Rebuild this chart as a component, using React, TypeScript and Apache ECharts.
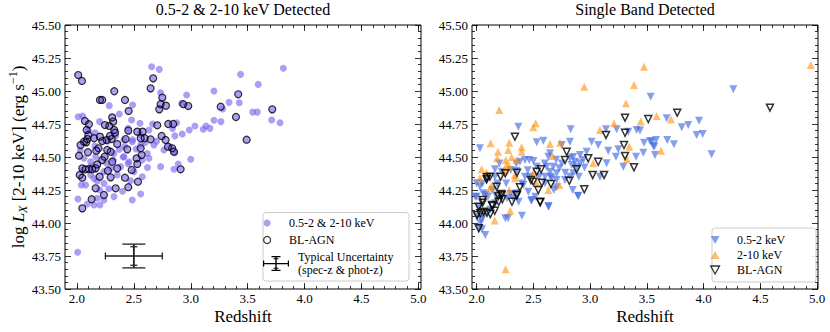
import React, { useEffect, useRef } from 'react';
import * as echarts from 'echarts';

const FONT = "'Liberation Serif', 'DejaVu Serif', serif";

const panelTitles = ['0.5-2 & 2-10 keV Detected', 'Single Band Detected'];
const xAxisTitle = 'Redshift';
const xMajorTicks = [2.0, 2.5, 3.0, 3.5, 4.0, 4.5, 5.0];
const xMinorTicks = [2.0, 2.1, 2.2, 2.3, 2.4, 2.5, 2.6, 2.7, 2.8, 2.9, 3.0, 3.1, 3.2, 3.3, 3.4, 3.5, 3.6, 3.7, 3.8, 3.9, 4.0, 4.1, 4.2, 4.3, 4.4, 4.5, 4.6, 4.7, 4.8, 4.9, 5.0];

// Left panel: sources detected in both bands (non BL-AGN)
const leftBoth = [
  [2.656,45.184],[2.723,45.164],[2.735,44.987],[2.964,44.97],[2.284,44.889],[2.489,44.894],[2.372,44.826],[2.011,44.805],[2.05,44.81],[2.48,44.78],[2.92,44.907],[3.037,44.735],[2.987,44.705],[2.665,44.75],[2.876,44.76],[2.84,44.717],[2.86,44.66],[2.45,44.717],[2.554,44.755],[2.554,44.674],[3.0,44.483],[2.89,44.447],[2.735,44.427],[2.372,44.558],[2.489,44.63],[2.407,44.5],[2.6,44.61],[2.817,44.578],[2.86,44.533],[2.158,44.583],[2.129,44.427],[2.261,44.452],[2.319,44.477],
  [3.813,45.172],[3.438,45.126],[3.593,45.05],[3.204,45.0],[3.336,44.914],[3.426,44.911],[3.28,44.864],[3.544,44.84],[3.585,44.84],[3.204,44.778],[3.265,44.768],[3.711,44.78],[3.784,44.76],[3.134,44.735],[3.169,44.717],[3.11,44.71],
  [2.009,44.182],[2.091,44.144],[2.15,44.136],[2.202,44.136],[2.486,44.174],[2.237,44.174],[2.178,44.187],[2.325,44.2],[2.038,44.288],[2.076,44.288],[2.15,44.338],[2.237,44.3],[2.178,44.318],[2.471,44.32],[2.574,44.351],[2.354,44.364],[2.12,44.364],[2.501,44.389],[2.574,44.477],[2.633,44.49],[2.852,44.407],[2.413,44.502],[2.457,44.464],[2.325,44.527],[2.384,44.427],[2.062,44.49],[2.12,44.464],[2.164,44.502],[2.237,44.389],[2.296,44.414],[2.56,44.591],[2.486,44.616],[2.413,44.629],[2.676,44.591],[2.618,44.527],[2.006,43.778],
  [2.199,44.768],[2.633,44.705],[2.158,44.684],[2.925,44.674],[2.764,44.553],
  [2.03,44.55],[2.1,44.7],[2.27,44.62],[2.34,44.66],[2.42,44.58],[2.52,44.56],[2.45,44.45],[2.2,44.25],[2.28,44.26],[2.05,44.4],[2.62,44.42],[2.7,44.62],[2.56,44.22],[2.4,44.24]
];

// Left panel: BL-AGN (also detected in both bands)
const leftBL = [
  [2.011,45.121],[2.044,45.076],[2.328,44.998],[2.202,44.932],[2.222,44.932],[2.422,44.932],[2.454,44.848],[2.67,45.096],[2.647,45.02],[2.75,44.95],[2.735,44.9],[2.723,44.861],[2.782,44.889],[2.934,44.9],[2.978,44.886],[2.07,44.773],[2.105,44.748],[2.085,44.705],[2.1,44.667],[2.31,44.8],[2.319,44.768],[2.284,44.735],[2.246,44.742],[2.328,44.705],[2.334,44.684],[2.202,44.654],[2.29,44.659],[2.451,44.7],[2.53,44.692],[2.577,44.692],[2.706,44.74],[2.802,44.75],[2.846,44.75],[2.744,44.659],
  [3.417,44.975],[3.263,44.881],[3.397,44.803],[3.716,44.861],[3.491,44.631],
  [2.047,44.111],[2.129,44.18],[2.237,44.212],[2.164,44.263],[2.34,44.263],[2.451,44.271],[2.536,44.313],[2.422,44.343],[2.296,44.346],[2.199,44.351],[2.047,44.343],[2.024,44.364],[2.076,44.407],[2.047,44.414],[2.105,44.409],[2.134,44.407],[2.164,44.414],[2.272,44.396],[2.354,44.414],[2.481,44.402],[2.53,44.447],[2.568,44.515],[2.524,44.49],[2.31,44.464],[2.243,44.502],[2.222,44.477],[2.178,44.444],[2.018,44.51],[2.097,44.536],[2.17,44.548],[2.266,44.553],[2.296,44.54],[2.442,44.558],[2.56,44.566],[2.032,44.591],[2.062,44.616],[2.082,44.611],[2.091,44.636],[2.15,44.642],[2.222,44.621],[2.261,44.629],[2.305,44.636],[2.428,44.636],[2.56,44.642],[2.595,44.642],[2.647,44.634],[2.779,44.629],[2.8,44.578],[2.837,44.566],[2.852,44.54],[2.911,44.407],[2.354,44.598],[2.19,44.566]
];

// Typical uncertainty: [z, logL, xerr, yerr (phot-z), yerr (spec-z)]
const typicalUncertainty = [[2.5, 43.75, 0.25, 0.09, 0.07]];

// Right panel: hard band only (2-10 keV)
const rightHard = [
  [2.948,45.033],[3.386,45.045],[2.199,44.856],[2.52,44.755],[2.499,44.725],[3.315,44.907],[3.21,44.755],[3.086,44.705],[3.445,44.768],[3.586,44.81],[2.123,44.604],[2.287,44.608],[2.396,44.573],[2.396,44.54],[2.188,44.54],[2.646,44.598],[2.734,44.608],[2.67,44.508],[2.278,44.553],[2.181,44.49],[2.258,44.477],[2.308,44.498],[2.352,44.477],[2.264,44.439],[2.287,44.427],[2.044,44.407],[2.029,44.339],[2.088,44.381],[2.249,44.396],[2.337,44.364],[2.337,44.339],[2.499,44.381],[2.117,44.263],[2.132,44.28],[2.529,44.301],[2.631,44.25],[2.728,44.288],[2.287,44.25],[3.027,44.452],[3.322,44.485],[3.345,44.578],[3.624,44.548],
  [4.943,45.197],[3.474,45.184],[3.712,44.785],[2.296,44.093],[2.159,44.018],[2.255,43.649]
];

// Right panel: soft band only (0.5-2 keV)
const rightSoft = [
  [3.533,44.957],[2.367,44.73],[2.828,44.71],[2.029,44.566],[3.139,44.71],[3.233,44.71],[3.41,44.705],[3.439,44.7],[3.013,44.616],[3.071,44.591],[2.822,44.616],[2.587,44.624],[2.529,44.611],[3.474,44.608],[3.542,44.616],[3.58,44.629],[3.565,44.578],[3.159,44.548],[3.248,44.558],[3.571,44.515],[3.468,44.533],[2.969,44.54],[2.91,44.515],[3.227,44.502],[3.292,44.427],[3.145,44.452],[3.086,44.351],[2.749,44.591],[2.646,44.528],[2.631,44.502],[2.426,44.477],[2.463,44.477],[2.381,44.464],[2.529,44.427],[2.617,44.427],[2.675,44.427],[2.728,44.414],[2.822,44.49],[2.866,44.464],[2.881,44.422],[2.837,44.439],[2.91,44.452],[2.939,44.477],[2.851,44.376],[2.822,44.351],[2.778,44.326],[2.705,44.376],[2.646,44.389],[2.602,44.351],[2.661,44.339],[2.705,44.326],[2.602,44.301],[2.47,44.351],[2.426,44.351],[2.352,44.396],[2.3,44.402],[2.22,44.389],[2.161,44.407],[2.161,44.351],[2.088,44.326],[2.0,44.301],[2.029,44.275],[2.0,44.199],[2.058,44.225],[2.411,44.288],[2.352,44.225],[2.455,44.237],[2.705,44.27],[2.846,44.25],[2.895,44.205],[2.631,44.129],[2.485,44.174],[2.176,44.199],[2.322,44.187],
  [4.261,45.013],[3.674,44.793],[3.959,44.775],[3.806,44.725],[3.864,44.742],[3.938,44.667],[3.991,44.674],[4.07,44.52],[3.679,44.629],[3.738,44.596],[3.527,44.621],[3.556,44.583],[3.336,44.692],[3.404,44.502],
  [2.076,43.909],[2.023,43.96],[2.047,43.952],[2.252,44.036],[2.276,44.036],[2.399,44.055],[2.634,44.124],[2.892,44.207],[2.032,43.998],[2.041,44.023],[2.003,44.048],[1.988,44.199],[2.076,44.212],[2.164,44.149],[2.267,44.187],[2.37,44.161],[2.481,44.169],[2.516,44.199],
  [2.02,44.12],[2.06,44.05],[2.1,44.2],[2.14,44.25],[2.05,44.3],[2.12,44.1],[2.18,44.3],[2.26,44.3],[2.3,44.22],[2.4,44.3],[2.45,44.4],[2.55,44.35],[2.6,44.45],[2.65,44.35],[2.7,44.48],[2.75,44.45],[2.78,44.38],[2.85,44.5],[2.9,44.35],[2.95,44.42],[2.68,44.25],[2.5,44.47],[2.2,44.45],[2.35,44.45]
];

// Right panel: BL-AGN
const rightBL = [
  [2.337,44.654],[3.307,44.798],[3.512,44.788],[3.139,44.667],[3.307,44.684],[3.298,44.591],[3.307,44.508],[3.386,44.422],[3.071,44.464],[2.983,44.49],[3.022,44.364],[3.122,44.364],[2.948,44.255],[2.881,44.407],[2.793,44.54],[2.778,44.477],[2.816,44.32],[2.567,44.407],[2.529,44.389],[2.478,44.326],[2.499,44.313],[2.543,44.25],[2.655,44.295],[2.558,44.161],[2.381,44.27],[2.352,44.212],[2.211,44.351],[2.117,44.351],[2.088,44.331],[2.176,44.275],[2.22,44.212],[2.226,44.18],[2.19,44.205],[2.053,44.174],[2.141,44.129],
  [4.584,44.874],[3.767,44.836],
  [2.018,43.96],[2.003,44.061],[2.032,44.073],[2.062,44.086],[2.091,44.078],[2.12,44.068],[2.018,44.124],[2.053,44.154],[2.135,44.136],[2.159,44.093],[2.194,44.161],[2.311,44.161],[2.355,44.212],[2.217,44.22],[2.56,44.157],
  [2.09,44.346],[2.252,44.376],[2.355,44.381],[2.575,44.305]
];

const PURPLE = 'rgba(123,104,238,0.8)';
const BLUE = 'rgba(65,105,225,0.8)';
const ORANGE = 'rgba(255,140,0,0.72)';
const DOWN_TRI = 'path://M0,0L10,0L5,9Z';
const UP_TRI = 'path://M5,0L10,9L0,9Z';
const ERRBAR_ICON = 'path://M0,7H26V8.2H0Z M0,4.5H1.2V10.5H0Z M24.8,4.5H26V10.5H24.8Z M12.3,0H13.7V15H12.3Z M8.5,0H17.5V1.2H8.5Z M8.5,13.8H17.5V15H8.5Z M10.5,2.2H15.5V3.2H10.5Z M10.5,11.8H15.5V12.8H10.5Z';

const tickLine = { color: '#000', width: 0.8 };
const labelStyle = { fontFamily: FONT, fontSize: 13, color: '#000' };

function xAxesFor(gridIndex: number, min: number, max: number) {
  const base = { type: 'value', gridIndex, min, max, axisLine: { show: false }, splitLine: { show: false } };
  return [
    {
      ...base, position: 'bottom',
      name: xAxisTitle, nameLocation: 'middle', nameGap: 19, nameMoveOverlap: false,
      nameTextStyle: { fontFamily: FONT, fontSize: 17, color: '#000' },
      axisTick: { show: true, inside: true, length: 6, customValues: xMajorTicks, lineStyle: tickLine },
      axisLabel: { show: true, customValues: xMajorTicks, margin: 3, formatter: (v: number) => v.toFixed(1), ...labelStyle },
    },
    { ...base, position: 'bottom', axisTick: { show: true, inside: true, length: 3, customValues: xMinorTicks, lineStyle: tickLine }, axisLabel: { show: false } },
    { ...base, position: 'top', axisTick: { show: true, inside: true, length: 6, customValues: xMajorTicks, lineStyle: tickLine }, axisLabel: { show: false } },
    { ...base, position: 'top', axisTick: { show: true, inside: true, length: 3, customValues: xMinorTicks, lineStyle: tickLine }, axisLabel: { show: false } },
  ];
}

function yAxesFor(gridIndex: number, withName: boolean) {
  const base = {
    type: 'value', gridIndex, min: 43.5, max: 45.5, interval: 0.25,
    axisLine: { show: false }, splitLine: { show: false },
    axisTick: { show: true, inside: true, length: 6, lineStyle: tickLine },
    minorTick: { show: true, splitNumber: 5, length: 3, lineStyle: tickLine },
  };
  const left: any = {
    ...base, position: 'left',
    axisLabel: { show: true, margin: 4, formatter: (v: number) => v.toFixed(2), ...labelStyle },
  };
  if (withName) {
    left.name = '{n|log }{i|L}{s|X}{n| [2-10 keV] (erg s}{p|\u22121}{n|)}';
    left.nameLocation = 'middle';
    left.nameGap = 36;
    left.nameMoveOverlap = false;
    left.nameTextStyle = {
      fontFamily: FONT, fontSize: 17, color: '#000',
      rich: {
        n: { fontFamily: FONT, fontSize: 17, color: '#000', lineHeight: 22 },
        i: { fontFamily: FONT, fontSize: 17, fontStyle: 'italic', color: '#000', lineHeight: 22 },
        s: { fontFamily: FONT, fontSize: 12, fontStyle: 'italic', color: '#000', verticalAlign: 'bottom' },
        p: { fontFamily: FONT, fontSize: 12, color: '#000', verticalAlign: 'top' },
      },
    };
  }
  return [left, { ...base, position: 'right', axisLabel: { show: false } }];
}

function renderUncertainty(params: any, api: any) {
  const x = api.value(0), y = api.value(1), ex = api.value(2), eyP = api.value(3), eyS = api.value(4);
  const c = api.coord([x, y]);
  const l = api.coord([x - ex, y]);
  const r = api.coord([x + ex, y]);
  const t = api.coord([x, y + eyP]);
  const b = api.coord([x, y - eyP]);
  const ts = api.coord([x, y + eyS]);
  const bs = api.coord([x, y - eyS]);
  const ln = (x1: number, y1: number, x2: number, y2: number, w = 1.3) => ({
    type: 'line', shape: { x1, y1, x2, y2 }, style: { stroke: '#222', lineWidth: w },
  });
  return {
    type: 'group',
    children: [
      ln(l[0], c[1], r[0], c[1]),
      ln(l[0], c[1] - 3.5, l[0], c[1] + 3.5),
      ln(r[0], c[1] - 3.5, r[0], c[1] + 3.5),
      ln(c[0], t[1], c[0], b[1], 1.8),
      ln(c[0] - 11.5, t[1], c[0] + 11.5, t[1]),
      ln(c[0] - 11.5, b[1], c[0] + 11.5, b[1]),
      ln(c[0] - 3.5, ts[1], c[0] + 3.5, ts[1]),
      ln(c[0] - 3.5, bs[1], c[0] + 3.5, bs[1]),
    ],
  };
}

export default function App() {
  const ref = useRef<HTMLDivElement>(null);
  useEffect(() => {
    if (!ref.current) return;
    const chart = echarts.init(ref.current, undefined, { renderer: 'svg' });
    const option: any = {
      animation: false,
      backgroundColor: '#fff',
      title: [
        { text: panelTitles[0], left: 243, top: 1, textAlign: 'center', padding: 0, textStyle: { fontFamily: FONT, fontSize: 16, fontWeight: 'normal', color: '#000' } },
        { text: panelTitles[1], left: 645, top: 1, textAlign: 'center', padding: 0, textStyle: { fontFamily: FONT, fontSize: 16, fontWeight: 'normal', color: '#000' } },
      ],
      grid: [
        { left: 65, top: 25, width: 356, height: 264, show: true, borderColor: '#000', borderWidth: 1, backgroundColor: 'transparent' },
        { left: 472, top: 25, width: 346, height: 264, show: true, borderColor: '#000', borderWidth: 1, backgroundColor: 'transparent' },
      ],
      xAxis: [...xAxesFor(0, 1.895, 5.023), ...xAxesFor(1, 1.959, 5.007)],
      yAxis: [...yAxesFor(0, true), ...yAxesFor(1, false)],
      legend: [
        {
          left: 263, top: 216, orient: 'vertical', itemWidth: 34, itemHeight: 7, itemGap: 3, padding: 0, z: 10,
          selectedMode: false,
          textStyle: { fontFamily: FONT, fontSize: 12, color: '#000', lineHeight: 14 },
          data: [
            { name: '0.5-2 & 2-10 keV', icon: 'circle', itemStyle: { color: PURPLE, borderWidth: 0 } },
            { name: 'BL-AGN', icon: 'circle', itemStyle: { color: '#fff', borderColor: '#000', borderWidth: 1.2 } },
          ],
        },
        {
          left: 263, top: 250, orient: 'vertical', itemWidth: 34, itemHeight: 15, padding: 0, z: 10,
          selectedMode: false,
          formatter: (n: string) => n.replace(' (', '\n('),
          textStyle: { fontFamily: FONT, fontSize: 12, color: '#000', lineHeight: 13.5 },
          data: [
            { name: 'Typical Uncertainty (spec-z & phot-z)', icon: ERRBAR_ICON, itemStyle: { color: '#000', borderWidth: 0 } },
          ],
        },
        {
          left: 710, top: 233, orient: 'vertical', itemWidth: 34, itemHeight: 8, itemGap: 1, padding: 0, z: 10,
          selectedMode: false,
          textStyle: { fontFamily: FONT, fontSize: 12, color: '#000', lineHeight: 14 },
          data: [
            { name: '0.5-2 keV', icon: DOWN_TRI, itemStyle: { color: BLUE, borderWidth: 0 } },
            { name: '2-10 keV', icon: UP_TRI, itemStyle: { color: ORANGE, borderWidth: 0 } },
            { name: 'BL-AGN', icon: DOWN_TRI, itemStyle: { color: '#fff', borderColor: '#000', borderWidth: 1.3 } },
          ],
        },
      ],
      graphic: [
        { type: 'rect', z: 8, shape: { x: 263, y: 212.5, width: 146, height: 68.5, r: 3 }, style: { fill: 'rgba(255,255,255,0.85)', stroke: '#cccccc', lineWidth: 1 } },
        { type: 'rect', z: 8, shape: { x: 712, y: 228, width: 104, height: 54, r: 3 }, style: { fill: 'rgba(255,255,255,0.85)', stroke: '#cccccc', lineWidth: 1 } },
      ],
      series: [
        {
          type: 'scatter', name: '0.5-2 & 2-10 keV', xAxisIndex: 0, yAxisIndex: 0,
          data: [...leftBoth, ...leftBL], symbol: 'circle', symbolSize: 7,
          itemStyle: { color: PURPLE }, z: 2,
        },
        {
          type: 'scatter', name: 'BL-AGN', xAxisIndex: 0, yAxisIndex: 0,
          data: leftBL, symbol: 'circle', symbolSize: 7,
          itemStyle: { color: 'rgba(0,0,0,0)', borderColor: '#000', borderWidth: 1.2 }, z: 3,
        },
        {
          type: 'custom', name: 'Typical Uncertainty (spec-z & phot-z)', xAxisIndex: 0, yAxisIndex: 0,
          data: typicalUncertainty, renderItem: renderUncertainty, z: 4,
        },
        {
          type: 'scatter', name: '0.5-2 keV', xAxisIndex: 4, yAxisIndex: 2,
          data: rightSoft, symbol: 'triangle', symbolRotate: 180, symbolSize: 8,
          itemStyle: { color: BLUE }, z: 2,
        },
        {
          type: 'scatter', name: '2-10 keV', xAxisIndex: 4, yAxisIndex: 2,
          data: rightHard, symbol: 'triangle', symbolSize: 8,
          itemStyle: { color: ORANGE }, z: 2,
        },
        {
          type: 'scatter', name: 'BL-AGN', xAxisIndex: 4, yAxisIndex: 2,
          data: rightBL, symbol: 'triangle', symbolRotate: 180, symbolSize: 7,
          itemStyle: { color: 'rgba(0,0,0,0)', borderColor: '#000', borderWidth: 1.5 }, z: 3,
        },
      ],
    };
    chart.setOption(option);
    return () => chart.dispose();
  }, []);
  return <div ref={ref} style={{ position: 'fixed', left: 0, top: 0, width: 830, height: 332, background: '#fff' }} />;
}
